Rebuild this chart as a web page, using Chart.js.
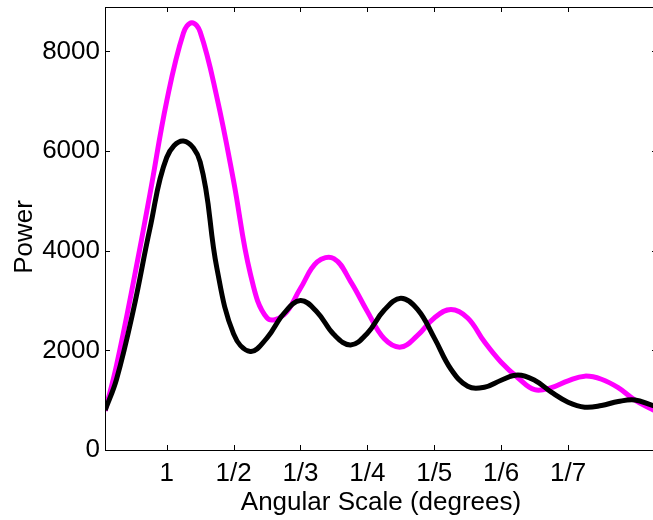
<!DOCTYPE html>
<html><head><meta charset="utf-8">
<script src="https://cdn.jsdelivr.net/npm/chart.js@4.4.1/dist/chart.umd.min.js"></script>
<style>
html,body{margin:0;padding:0;background:#fff;overflow:hidden;width:653px;height:520px}
#wrap{width:658px;height:520px}
</style>
</head><body><div id="wrap"><canvas id="c" width="658" height="520"></canvas></div>
<script>
// x positions in multipole-like units (200 per tick step)
const tickPositions = [200, 400, 600, 800, 1000, 1200, 1400];
const tickLabels = ['1', '1/2', '1/3', '1/4', '1/5', '1/6', '1/7'];
const yTicks = [0, 2000, 4000, 6000, 8000];

const blackX = [16, 50, 100, 150, 200, 250, 300, 350, 400, 450, 500, 550, 600, 650, 700, 750, 800, 850, 900, 950, 1000, 1050, 1100, 1150, 1200, 1250, 1300, 1350, 1400, 1450, 1500, 1550, 1600, 1650, 1666];
const blackPower = [800, 1420, 2800, 4450, 5870, 6200, 5780, 3650, 2330, 1978, 2250, 2738, 2999, 2766, 2317, 2109, 2345, 2804, 3045, 2820, 2250, 1620, 1280, 1259, 1400, 1505, 1400, 1160, 960, 860, 893, 973, 1003, 900, 870];

const magentaX = [16, 50, 100, 150, 200, 250, 275, 300, 350, 400, 450, 500, 550, 600, 650, 700, 750, 800, 850, 900, 950, 1000, 1050, 1100, 1150, 1200, 1250, 1300, 1350, 1400, 1450, 1500, 1550, 1600, 1650, 1666];
const magentaPower = [783, 1700, 3350, 5140, 7000, 8370, 8576, 8390, 7080, 5400, 3540, 2650, 2711, 3246, 3773, 3842, 3380, 2780, 2236, 2065, 2300, 2650, 2820, 2650, 2170, 1760, 1450, 1210, 1252, 1389, 1482, 1420, 1250, 1000, 820, 763];

const FONT = '"Liberation Sans", Arial, Helvetica, sans-serif';

const framePlugin = {
  id: 'frame',
  afterDraw(chart) {
    const {ctx, chartArea: a, scales: {x, y}} = chart;
    ctx.save();
    ctx.strokeStyle = '#000';
    ctx.lineWidth = 1;
    ctx.strokeRect(a.left + 0.5, a.top + 0.5, a.right - a.left - 1, a.bottom - a.top);
    const L = 5;
    ctx.beginPath();
    x.ticks.forEach(t => {
      const px = Math.round(x.getPixelForValue(t.value)) + 0.5;
      ctx.moveTo(px, a.bottom); ctx.lineTo(px, a.bottom - L);
      ctx.moveTo(px, a.top); ctx.lineTo(px, a.top + L);
    });
    y.ticks.forEach(t => {
      const py = Math.round(y.getPixelForValue(t.value)) + 0.5;
      ctx.moveTo(a.left, py); ctx.lineTo(a.left + L, py);
      ctx.moveTo(a.right, py); ctx.lineTo(a.right - L, py);
    });
    ctx.stroke();
    // y axis title
    ctx.fillStyle = '#000';
    ctx.font = '26px ' + FONT;
    ctx.textAlign = 'center';
    ctx.textBaseline = 'middle';
    ctx.translate(25, 237);
    ctx.rotate(-Math.PI / 2);
    ctx.fillText('Power', 0, 0);
    ctx.restore();
  }
};

const lineStyle = {
  borderWidth: 5,
  pointRadius: 0,
  tension: 0.4,
  cubicInterpolationMode: 'default',
  fill: false,
  clip: 0
};

new Chart(document.getElementById('c'), {
  type: 'line',
  data: {
    datasets: [
      Object.assign({
        label: 'Black',
        data: blackX.map((v, i) => ({x: v, y: blackPower[i]})),
        borderColor: '#000000'
      }, lineStyle),
      Object.assign({
        label: 'Magenta',
        data: magentaX.map((v, i) => ({x: v, y: magentaPower[i]})),
        borderColor: '#FF00FF'
      }, lineStyle)
    ]
  },
  options: {
    responsive: false,
    animation: false,
    devicePixelRatio: 1,
    layout: {padding: {top: 7, right: 1, left: 0, bottom: 0}},
    plugins: {legend: {display: false}, tooltip: {enabled: false}},
    scales: {
      x: {
        type: 'linear',
        min: 15.5,
        max: 1666,
        grid: {display: false, drawTicks: false},
        border: {display: false},
        afterFit(s) { s.height = 70; s.paddingLeft = 0; s.paddingRight = 0; },
        afterBuildTicks(s) { s.ticks = tickPositions.map(v => ({value: v})); },
        ticks: {
          autoSkip: false, maxRotation: 0, padding: 8,
          color: '#000', font: {family: FONT, size: 26},
          callback: (v) => tickLabels[tickPositions.indexOf(v)]
        },
        title: {
          display: true, text: 'Angular Scale (degrees)', color: '#000',
          font: {family: FONT, size: 26}, padding: {top: 0, bottom: 2}
        }
      },
      y: {
        type: 'linear',
        min: 0,
        max: 8890,
        grid: {display: false, drawTicks: false},
        border: {display: false},
        afterFit(s) { s.width = 105; s.paddingTop = 0; s.paddingBottom = 0; },
        afterBuildTicks(s) { s.ticks = yTicks.map(v => ({value: v})); },
        ticks: {
          padding: 5, color: '#000', font: {family: FONT, size: 26},
          callback: (v) => String(v)
        }
      }
    }
  },
  plugins: [framePlugin]
});
</script>
</body></html>
